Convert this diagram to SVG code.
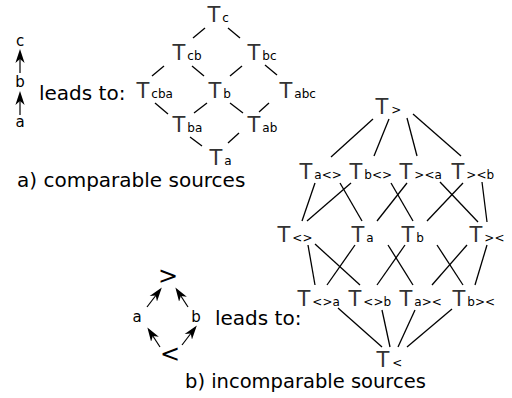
<svg xmlns="http://www.w3.org/2000/svg" width="512" height="398" viewBox="0 0 512 398">
  <defs>
    <marker id="head" viewBox="-11 -5 14 10" markerWidth="14" markerHeight="10" refX="0" refY="0" orient="auto" markerUnits="userSpaceOnUse">
      <path d="M3,0 L-11,-4.6 L-7,0 L-11,4.6 Z" fill="#000"/>
    </marker>
    <style>
      text { font-family: "DejaVu Sans", "Liberation Sans", sans-serif; fill: #000; }
      .T { font-size: 21px; fill: #333; }
      .sub { font-size: 12px; fill: #000; }
      .lbl { font-size: 15px; }
      .big { font-size: 20px; }
      .rel { font-size: 24px; }
      .edges line { stroke: #000; stroke-width: 1.3; }
      .arrows line { stroke: #000; stroke-width: 1.2; marker-end: url(#head); }
    </style>
  </defs>
  <rect width="512" height="398" fill="#fff"/>

  <!-- a) chain of three comparable sources -->
  <g id="src-a">
    <text class="lbl" x="20" y="46" text-anchor="middle">c</text>
    <text class="lbl" x="20" y="87" text-anchor="middle">b</text>
    <text class="lbl" x="20" y="127" text-anchor="middle">a</text>
  </g>
  <g class="arrows">
    <line x1="20" y1="73" x2="20" y2="52"/>
    <line x1="20" y1="115" x2="20" y2="94"/>
  </g>
  <text class="big" x="39" y="100">leads to:</text>

  <!-- lattice for comparable sources -->
  <g class="edges">
    <line x1="205" y1="28" x2="193" y2="38"/>
    <line x1="228" y1="28" x2="240" y2="38"/>
    <line x1="164" y1="66" x2="152" y2="76"/>
    <line x1="192" y1="66" x2="204" y2="76"/>
    <line x1="242" y1="66" x2="230" y2="76"/>
    <line x1="265" y1="65" x2="277" y2="75"/>
    <line x1="155" y1="103" x2="168" y2="114"/>
    <line x1="207" y1="103" x2="194" y2="113"/>
    <line x1="230" y1="103" x2="243" y2="113"/>
    <line x1="269" y1="103" x2="259" y2="112"/>
    <line x1="190" y1="137" x2="202" y2="146"/>
    <line x1="239" y1="133" x2="228" y2="143"/>
  </g>
  <g id="n-c"><text class="T" x="207.5" y="22">T<tspan class="sub" dx="2">c</tspan></text></g>
  <g id="n-cb"><text class="T" x="172.5" y="60">T<tspan class="sub" dx="2">cb</tspan></text></g>
  <g id="n-bc"><text class="T" x="247.5" y="60">T<tspan class="sub" dx="2">bc</tspan></text></g>
  <g id="n-cba"><text class="T" x="136.5" y="98">T<tspan class="sub" dx="2">cba</tspan></text></g>
  <g id="n-b1"><text class="T" x="208.5" y="98">T<tspan class="sub" dx="2">b</tspan></text></g>
  <g id="n-abc"><text class="T" x="279.5" y="98">T<tspan class="sub" dx="2">abc</tspan></text></g>
  <g id="n-ba"><text class="T" x="172.5" y="132">T<tspan class="sub" dx="2">ba</tspan></text></g>
  <g id="n-ab"><text class="T" x="247.5" y="132">T<tspan class="sub" dx="2">ab</tspan></text></g>
  <g id="n-a1"><text class="T" x="209.5" y="165">T<tspan class="sub" dx="2">a</tspan></text></g>

  <text class="big" x="17" y="187">a) comparable sources</text>

  <!-- b) two incomparable sources between < and > -->
  <g id="src-b">
    <text class="rel" x="168" y="284" text-anchor="middle">&gt;</text>
    <text class="lbl" x="137" y="322" text-anchor="middle">a</text>
    <text class="lbl" x="196" y="322" text-anchor="middle">b</text>
    <text class="rel" x="170" y="362" text-anchor="middle">&lt;</text>
  </g>
  <g class="arrows">
    <line x1="147" y1="307" x2="160" y2="290"/>
    <line x1="188" y1="307" x2="177" y2="290"/>
    <line x1="160" y1="347" x2="149" y2="330"/>
    <line x1="182" y1="345" x2="195" y2="328"/>
  </g>
  <text class="big" x="215" y="325">leads to:</text>

  <!-- lattice for incomparable sources -->
  <g class="edges">
    <line x1="373" y1="119" x2="331" y2="157"/>
    <line x1="389" y1="119" x2="374" y2="156"/>
    <line x1="407" y1="118" x2="417" y2="156"/>
    <line x1="413" y1="114" x2="461" y2="156"/>

    <line x1="315" y1="183" x2="302" y2="221"/>
    <line x1="351" y1="183" x2="307" y2="221"/>
    <line x1="340" y1="183" x2="362" y2="221"/>
    <line x1="391" y1="183" x2="413" y2="221"/>
    <line x1="407" y1="183" x2="377" y2="221"/>
    <line x1="440" y1="182" x2="478" y2="222"/>
    <line x1="463" y1="183" x2="427" y2="221"/>
    <line x1="482" y1="182" x2="487" y2="222"/>

    <line x1="308" y1="245" x2="315" y2="285"/>
    <line x1="315" y1="244" x2="360" y2="285"/>
    <line x1="355" y1="245" x2="327" y2="285"/>
    <line x1="388" y1="245" x2="413" y2="285"/>
    <line x1="405" y1="245" x2="377" y2="285"/>
    <line x1="437" y1="245" x2="463" y2="285"/>
    <line x1="467" y1="245" x2="432" y2="285"/>
    <line x1="487" y1="245" x2="475" y2="285"/>

    <line x1="338" y1="308" x2="382" y2="347"/>
    <line x1="382" y1="310" x2="390" y2="347"/>
    <line x1="415" y1="310" x2="398" y2="347"/>
    <line x1="452" y1="309" x2="407" y2="347"/>
  </g>
  <g id="n-top"><text class="T" x="375.5" y="114">T<tspan class="sub" dx="3">&gt;</tspan></text></g>
  <g id="n-a-lr"><text class="T" x="299.5" y="179">T<tspan class="sub" dx="2">a&lt;&gt;</tspan></text></g>
  <g id="n-b-lr"><text class="T" x="349.5" y="179">T<tspan class="sub" dx="2">b&lt;&gt;</tspan></text></g>
  <g id="n-rl-a"><text class="T" x="399.5" y="179">T<tspan class="sub" dx="2">&gt;&lt;a</tspan></text></g>
  <g id="n-rl-b"><text class="T" x="451.5" y="179">T<tspan class="sub" dx="2">&gt;&lt;b</tspan></text></g>
  <g id="n-lr"><text class="T" x="277.5" y="242">T<tspan class="sub" dx="2">&lt;&gt;</tspan></text></g>
  <g id="n-a2"><text class="T" x="351.5" y="242">T<tspan class="sub" dx="2">a</tspan></text></g>
  <g id="n-b2"><text class="T" x="401.5" y="242">T<tspan class="sub" dx="2">b</tspan></text></g>
  <g id="n-rl"><text class="T" x="469.5" y="242">T<tspan class="sub" dx="2">&gt;&lt;</tspan></text></g>
  <g id="n-lr-a"><text class="T" x="297.5" y="306">T<tspan class="sub" dx="2">&lt;&gt;a</tspan></text></g>
  <g id="n-lr-b"><text class="T" x="348.5" y="306">T<tspan class="sub" dx="2">&lt;&gt;b</tspan></text></g>
  <g id="n-a-rl"><text class="T" x="399.5" y="306">T<tspan class="sub" dx="2">a&gt;&lt;</tspan></text></g>
  <g id="n-b-rl"><text class="T" x="452.5" y="306">T<tspan class="sub" dx="2">b&gt;&lt;</tspan></text></g>
  <g id="n-bot"><text class="T" x="376.5" y="367">T<tspan class="sub" dx="3">&lt;</tspan></text></g>

  <text class="big" x="185" y="388" style="font-size:19.5px">b) incomparable sources</text>
</svg>
